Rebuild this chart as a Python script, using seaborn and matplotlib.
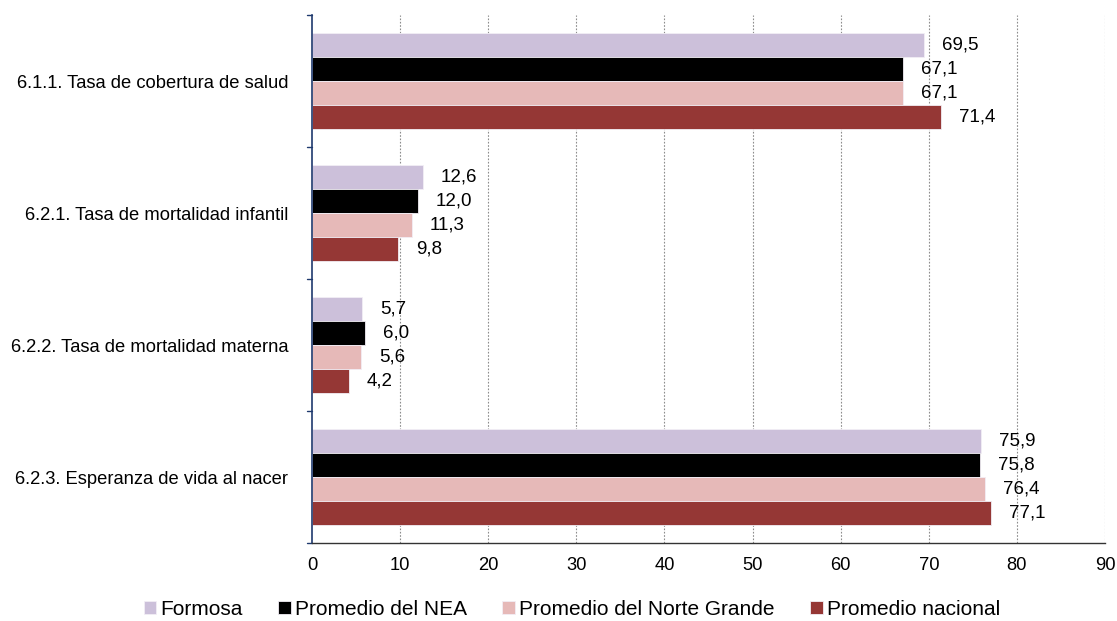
import matplotlib
matplotlib.use("Agg")
import matplotlib.pyplot as plt
import seaborn as sns
import pandas as pd

indicators = [
    "6.1.1. Tasa de cobertura de salud",
    "6.2.1. Tasa de mortalidad infantil",
    "6.2.2. Tasa de mortalidad materna",
    "6.2.3. Esperanza de vida al nacer",
]
series = ["Formosa", "Promedio del NEA", "Promedio del Norte Grande", "Promedio nacional"]
formosa = [69.5, 12.6, 5.7, 75.9]
nea = [67.1, 12.0, 6.0, 75.8]
norte_grande = [67.1, 11.3, 5.6, 76.4]
nacional = [71.4, 9.8, 4.2, 77.1]
x_ticks = [0, 10, 20, 30, 40, 50, 60, 70, 80, 90]

colors = ["#CCC0DA", "#000000", "#E6B9B8", "#953735"]

rows = []
for name, vals in zip(series, [formosa, nea, norte_grande, nacional]):
    for ind, v in zip(indicators, vals):
        rows.append({"Indicador": ind, "Serie": name, "Valor": v})
df = pd.DataFrame(rows)

sns.set_theme(style="white")
plt.rcParams["font.family"] = ["Liberation Sans", "DejaVu Sans"]
plt.rcParams["text.color"] = "black"

fig = plt.figure(figsize=(11.17, 6.21), dpi=100)
ax = fig.add_axes([0.2793, 0.1256, 0.7100, 0.8502])

sns.barplot(data=df, y="Indicador", x="Valor", hue="Serie", order=indicators,
            hue_order=series, palette=colors, saturation=1, orient="h", width=0.727,
            edgecolor="#f2eef5", linewidth=0.6, ax=ax, legend=True)

# value labels with decimal comma
for container in ax.containers:
    labels = [f"{b.get_width():.1f}".replace(".", ",") for b in container]
    ax.bar_label(container, labels=labels, padding=13, fontsize=13.5, color="black")

ax.set_xlim(0, 90)
ax.set_xticks(x_ticks)
ax.set_xticklabels([str(t) for t in x_ticks], fontsize=13.2, color="black")
ax.set_ylim(3.5, -0.5)
ax.set_yticks(range(len(indicators)))
ax.set_yticklabels(indicators, fontsize=13.2, color="black")
ax.set_xlabel("")
ax.set_ylabel("")

# vertical dotted gridlines
for t in x_ticks[1:]:
    ax.axvline(t, color="#8c8c8c", linestyle=(0, (1.5, 1.5)), linewidth=0.8, zorder=0)

# category boundary ticks on the value axis
ax.tick_params(axis="y", length=0, pad=17)
for b in [-0.5, 0.5, 1.5, 2.5, 3.5]:
    ax.plot([-0.006, 0], [b, b], transform=ax.get_yaxis_transform(), color="#1F3A6E",
            linewidth=1, clip_on=False)
ax.tick_params(axis="x", direction="out", length=4, width=1, color="#333333", pad=6)

for s in ["top", "right"]:
    ax.spines[s].set_visible(False)
ax.spines["left"].set_color("#1F3A6E")
ax.spines["left"].set_linewidth(1.2)
ax.spines["bottom"].set_color("#333333")
ax.spines["bottom"].set_linewidth(1)

handles, lbls = ax.get_legend_handles_labels()
ax.legend_.remove()
fig.legend(handles, lbls, loc="center", bbox_to_anchor=(0.512, 0.019), ncol=4,
           frameon=False, fontsize=15, handlelength=0.6, handleheight=0.6,
           handletextpad=0.2, columnspacing=1.7)

fig.savefig("out.png", dpi=100)
